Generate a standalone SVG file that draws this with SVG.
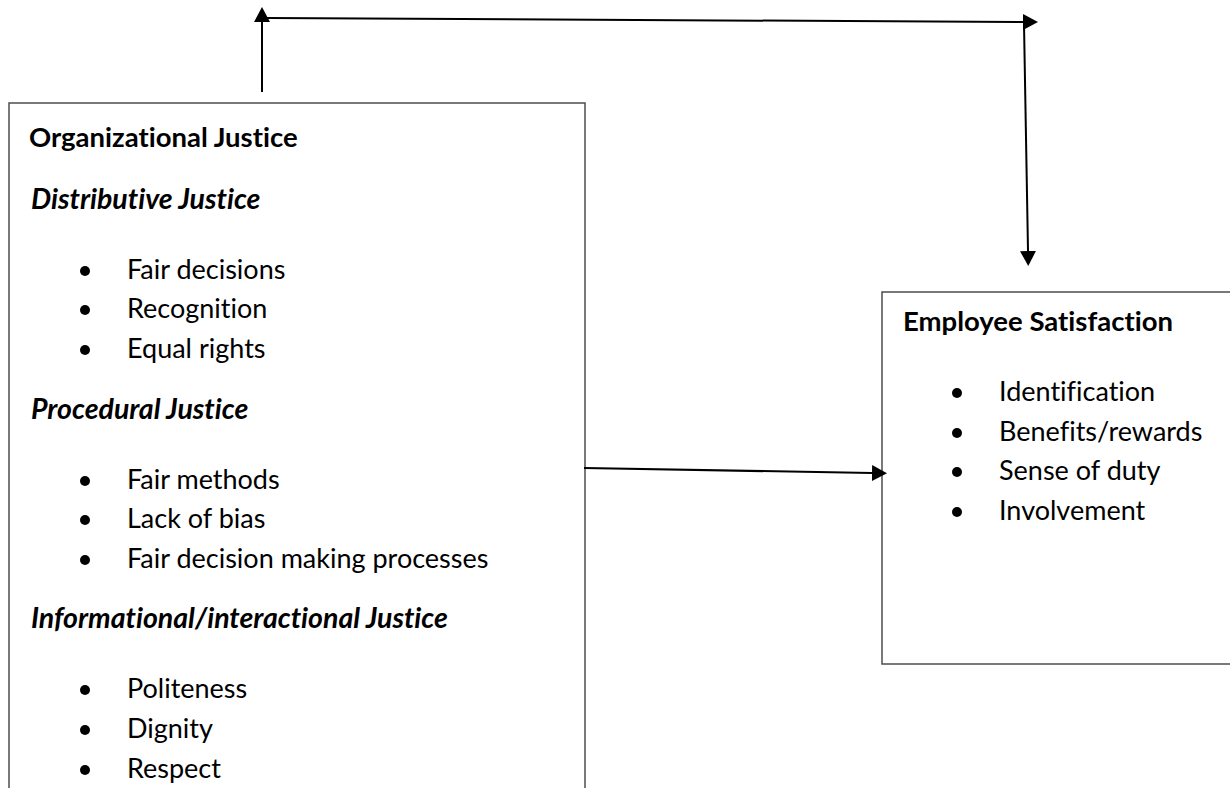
<svg xmlns="http://www.w3.org/2000/svg" width="1230" height="788" viewBox="0 0 1230 788">
<style>
  .box { fill: #ffffff; stroke: #4d4d4d; stroke-width: 1.5; }
  .t { font-family: Lato, "Open Sans", "Liberation Sans", sans-serif; font-size: 27px; fill: #000; font-variant-ligatures: none; }
  .h { font-weight: bold; font-size: 27.5px; }
  .s { font-weight: bold; font-style: italic; font-size: 28.5px; }
  .bul { fill: #000; }
  .con { stroke: #000; stroke-width: 2; fill: none; marker-end: url(#ah); }
</style>
<defs>
  <marker id="ah" markerUnits="userSpaceOnUse" markerWidth="16" markerHeight="16" refX="0" refY="8" orient="auto" viewBox="0 0 16 16">
    <path d="M0,0 L15,8 L0,16 Z" fill="#000"/>
  </marker>
</defs>
<rect width="1230" height="788" fill="#ffffff"/>
<g id="organizational-justice">
  <rect class="box" x="9" y="103" width="576" height="700"/>
  <text class="t h" x="29" y="147">Organizational Justice</text>
  <text class="t s" x="31" y="209">Distributive Justice</text>
  <circle class="bul" cx="85" cy="271" r="5"/>
  <text class="t" x="127" y="279">Fair decisions</text>
  <circle class="bul" cx="85" cy="310" r="5"/>
  <text class="t" x="127" y="318">Recognition</text>
  <circle class="bul" cx="85" cy="350" r="5"/>
  <text class="t" x="127" y="358">Equal rights</text>
  <text class="t s" x="31" y="419">Procedural Justice</text>
  <circle class="bul" cx="85" cy="481" r="5"/>
  <text class="t" x="127" y="489">Fair methods</text>
  <circle class="bul" cx="85" cy="520" r="5"/>
  <text class="t" x="127" y="528">Lack of bias</text>
  <circle class="bul" cx="85" cy="560" r="5"/>
  <text class="t" x="127" y="568">Fair decision making processes</text>
  <text class="t s" x="31" y="628">Informational/interactional Justice</text>
  <circle class="bul" cx="85" cy="690" r="5"/>
  <text class="t" x="127" y="698">Politeness</text>
  <circle class="bul" cx="85" cy="730" r="5"/>
  <text class="t" x="127" y="738">Dignity</text>
  <circle class="bul" cx="85" cy="770" r="5"/>
  <text class="t" x="127" y="778">Respect</text>
</g>
<g id="employee-satisfaction">
  <rect class="box" x="882" y="292" width="360" height="372"/>
  <text class="t h" x="903" y="331">Employee Satisfaction</text>
  <circle class="bul" cx="957" cy="393" r="5"/>
  <text class="t" x="999" y="401">Identification</text>
  <circle class="bul" cx="957" cy="433" r="5"/>
  <text class="t" x="999" y="441">Benefits/rewards</text>
  <circle class="bul" cx="957" cy="472" r="5"/>
  <text class="t" x="999" y="480">Sense of duty</text>
  <circle class="bul" cx="957" cy="512" r="5"/>
  <text class="t" x="999" y="520">Involvement</text>
</g>
<g id="connectors">
  <line class="con" x1="262" y1="92" x2="262" y2="22"/>
  <line class="con" x1="267" y1="18" x2="1023" y2="22"/>
  <line class="con" x1="1024" y1="24" x2="1028" y2="251"/>
  <line class="con" x1="584" y1="468" x2="872" y2="473"/>
</g>
</svg>
